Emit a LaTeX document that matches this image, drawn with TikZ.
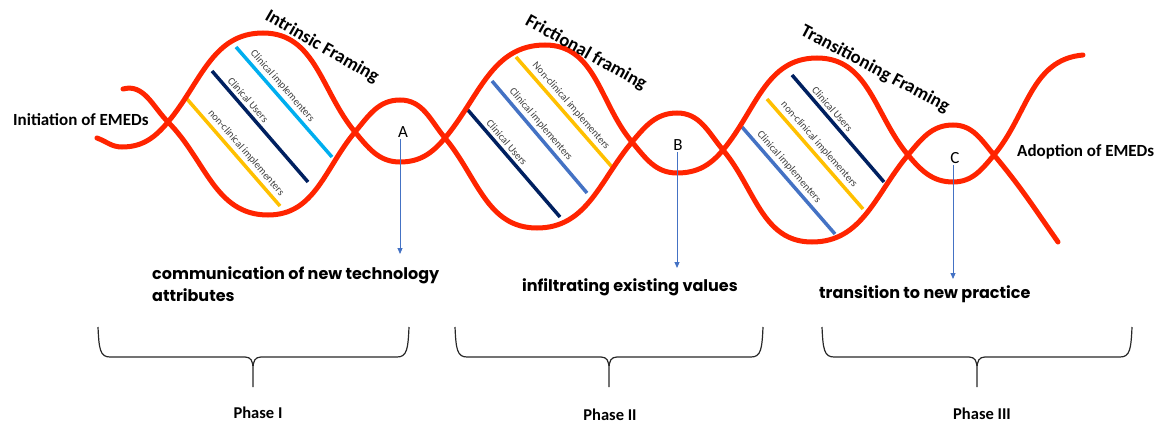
\documentclass[tikz,border=0pt]{standalone}
\usepackage{fontspec}
\setmainfont{Carlito}
\newfontfamily\geofont{Poppins}
\usetikzlibrary{arrows.meta}
\definecolor{helixred}{RGB}{255,36,0}
\definecolor{rungcyan}{RGB}{0,174,239}
\definecolor{rungnavy}{RGB}{0,32,96}
\definecolor{rungorange}{RGB}{255,192,0}
\definecolor{rungblue}{RGB}{68,114,196}
\definecolor{labelgray}{RGB}{64,64,64}
\definecolor{bracegray}{RGB}{40,40,40}
\begin{document}
\begin{tikzpicture}[x=1pt,y=1pt,
  strand/.style={draw=helixred, line width=5pt, line cap=round},
  rung/.style={line width=3.5pt},
  runglabel/.style={sloped, above=3pt, inner sep=0pt, text=labelgray,
    font=\fontsize{10.5}{12}\selectfont},
  framelabel/.style={inner sep=0pt, font=\bfseries\fontsize{18.5}{21}\selectfont},
  endlabel/.style={inner sep=0pt, font=\bfseries\fontsize{17}{20}\selectfont},
  letter/.style={inner sep=1.5pt, font=\fontsize{17}{20}\selectfont},
  pointer/.style={draw=rungblue, line width=0.9pt, -{Triangle[length=6pt,width=5pt]}},
  outcome/.style={inner sep=0pt, align=left, font=\geofont\bfseries\fontsize{16}{22}\selectfont},
  brace/.style={draw=bracegray, line width=1.2pt},
  phase/.style={inner sep=0pt, font=\bfseries\fontsize{16.5}{19}\selectfont}]
\useasboundingbox (0,0) rectangle (1174,-425);

% rungs of the first turn
\draw[rung, rungcyan] (236,-47) -- node[runglabel, pos=.41] (t1a) {Clinical implementers} (332,-157);
\draw[rung, rungnavy] (212,-71) -- node[runglabel, pos=.31] (t1b) {Clinical Users} (308,-182);
\draw[rung, rungorange] (187,-99) -- node[runglabel, pos=.56] (t1c) {non-clinical implementers} (280,-206);

% rungs of the second turn
\draw[rung, rungorange] (516,-57) -- node[runglabel, pos=.5] (t2a) {Non-clinical implementers} (612,-167);
\draw[rung, rungblue] (492,-81) -- node[runglabel, pos=.44] (t2b) {Clinical implementers} (587,-193);
\draw[rung, rungnavy] (467,-109) -- node[runglabel, pos=.36] (t2c) {Clinical Users} (560,-217);

% rungs of the third turn
\draw[rung, rungnavy] (792,-75) -- node[runglabel, pos=.37] (t3a) {Clinical Users} (884,-182);
\draw[rung, rungorange] (767,-99) -- node[runglabel, pos=.47] (t3b) {non-clinical implementers} (863,-209);
\draw[rung, rungblue] (742,-127) -- node[runglabel, pos=.43] (t3c) {Clinical implementers} (835,-234);

% first strand
\draw[strand] (123,-89) to[out=15,in=135] (168,-122)
  to[out=-45,in=180] (268,-215)
  to[out=0,in=-130] (355,-132)
  to[out=50,in=180] (400,-100)
  to[out=0,in=130] (445,-138)
  to[out=-50,in=180] (537,-228)
  to[out=0,in=-130] (632,-142)
  to[out=50,in=180] (677,-113)
  to[out=0,in=130] (723,-150)
  to[out=-50,in=180] (812,-242)
  to[out=0,in=-130] (908,-155)
  to[out=50,in=180] (953,-125)
  to[out=0,in=130] (994,-155)
  to[out=-50,in=125] (1058,-242);

% second strand
\draw[strand] (97,-138) to[out=-20,in=180] (122,-147)
  to[out=0,in=-130] (168,-122)
  to[out=50,in=180] (263,-33)
  to[out=0,in=130] (355,-132)
  to[out=-50,in=180] (400,-162)
  to[out=0,in=-130] (445,-138)
  to[out=50,in=180] (545,-45)
  to[out=0,in=130] (632,-142)
  to[out=-50,in=180] (677,-173)
  to[out=0,in=-130] (723,-150)
  to[out=50,in=180] (817,-58)
  to[out=0,in=130] (908,-155)
  to[out=-50,in=180] (953,-182)
  to[out=0,in=-130] (994,-155)
  to[out=50,in=185] (1083,-55);

% framing titles
\node[framelabel, rotate=-30] (f1) at (322,-47) {Intrinsic Framing};
\node[framelabel, rotate=-29] (f2) at (586,-53) {Frictional framing};
\node[framelabel, rotate=-28] (f3) at (875,-69) {Transitioning Framing};

% start and end
\node[endlabel, anchor=base west] (start) at (13,-125) {Initiation of EMEDs};
\node[endlabel, anchor=base west] (finish) at (1017,-156) {Adoption of EMEDs};

% stage letters and their outcomes
\node[letter] (A) at (403,-132) {A};
\node[letter] (B) at (678,-145) {B};
\node[letter] (C) at (955,-158) {C};
\coordinate (Aend) at (400,-254);
\coordinate (Bend) at (677,-268);
\coordinate (Cend) at (953,-279);
\draw[pointer] (A.south -| Aend) -- (Aend);
\draw[pointer] (B.south -| Bend) -- (Bend);
\draw[pointer] (C.south -| Cend) -- (Cend);

\node[outcome, anchor=west] (o1) at (152,-284) {communication of new technology\\attributes};
\node[outcome, anchor=west] (o2) at (522,-287) {infiltrating existing values};
\node[outcome, anchor=west] (o3) at (819,-294) {transition to new practice};

% phase braces
\foreach \xl/\xm/\xr/\nm in {98/253/409/b1, 455/609/763/b2, 822/977/1132/b3}{
  \draw[brace] (\xl,-327) .. controls (\xl+1,-349) and (\xl+2,-357) .. (\xl+12,-357)
    -- (\xm-8,-357) .. controls (\xm-2,-357) and (\xm,-361) .. (\xm,-369)
    -- (\xm,-387) coordinate (\nm)
    (\xm,-369) .. controls (\xm,-361) and (\xm+2,-357) .. (\xm+8,-357)
    -- (\xr-12,-357) .. controls (\xr-2,-357) and (\xr-1,-349) .. (\xr,-327);
}
\node[phase] (p1) at (258,-413) {Phase I};
\node[phase] (p2) at (610,-415) {Phase II};
\node[phase] (p3) at (982,-414) {Phase III};
\end{tikzpicture}
\end{document}
